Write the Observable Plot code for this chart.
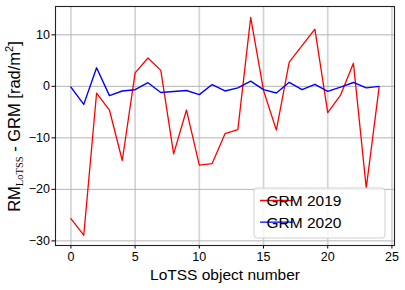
<!DOCTYPE html>
<html><head><meta charset="utf-8">
<script src="https://cdn.jsdelivr.net/npm/d3@7"></script>
<script src="https://cdn.jsdelivr.net/npm/@observablehq/plot@0.6"></script>
<style>
body{margin:0;background:#fff;}
#chart{position:relative;width:405px;height:290px;}
#chart svg{font-family:"Liberation Sans",Arial,sans-serif;}
</style>
</head><body><div id="chart"></div>
<script>
const objectNumbers = [0,1,2,3,4,5,6,7,8,9,10,11,12,13,14,15,16,17,18,19,20,21,22,23,24];
const grm2019 = [-25.7,-28.9,-1.3,-4.6,-14.4,2.6,5.5,3.1,-13.1,-4.6,-15.3,-15.0,-9.2,-8.4,13.4,-0.8,-8.5,4.7,7.9,11.1,-5.1,-1.7,4.5,-19.7,-0.2];
const grm2020 = [-0.15,-3.5,3.6,-1.8,-0.9,-0.65,0.7,-1.2,-1.0,-0.8,-1.6,0.35,-0.9,-0.3,1.0,-0.65,-1.3,0.78,-0.65,0.4,-0.97,-0.15,0.75,-0.3,0.0];
const seriesNames = ["GRM 2019","GRM 2020"];
const seriesColors = ["#ff0000","#0000ff"];
const xTicks = [0,5,10,15,20,25];
const yTicks = [-30,-20,-10,0,10];
const xLabel = "LoTSS object number";

const rows2019 = objectNumbers.map((n,i)=>({n, v:grm2019[i]}));
const rows2020 = objectNumbers.map((n,i)=>({n, v:grm2020[i]}));

const plot = Plot.plot({
  width:405, height:290,
  marginLeft:55, marginRight:11, marginTop:6, marginBottom:45,
  style:{fontFamily:'"Liberation Sans",Arial,sans-serif', background:"#fff", color:"#000"},
  x:{domain:[-1.2,25.2]},
  y:{domain:[-30.9,15.5]},
  marks:[
    Plot.gridX(xTicks,{stroke:"#d4d4d4",strokeWidth:1.7,strokeOpacity:1}),
    Plot.gridY(yTicks,{stroke:"#b4b4b4",strokeWidth:1,strokeOpacity:1}),
    Plot.axisX(xTicks,{tickSize:3.5,tickPadding:3,fontSize:12.5,label:null,stroke:"#000"}),
    Plot.axisY(yTicks,{tickSize:3.5,tickPadding:2,fontSize:12.5,label:null,stroke:"#000"}),
    Plot.line(rows2019,{x:"n",y:"v",stroke:seriesColors[0],strokeWidth:1.3}),
    Plot.line(rows2020,{x:"n",y:"v",stroke:seriesColors[1],strokeWidth:1.4}),
    Plot.frame({stroke:"#222",strokeWidth:1.1}),
    Plot.text([xLabel],{frameAnchor:"bottom",dy:34,fontSize:15.5,fill:"#000"})
  ]
});
document.getElementById("chart").appendChild(plot);

const svg = d3.select(plot);
// y label with subscript / superscript
const yl = svg.append("text")
  .attr("transform","translate(19.5,126.5) rotate(-90)")
  .attr("text-anchor","middle")
  .attr("font-size",16.5)
  .attr("fill","#000");
yl.append("tspan").text("RM");
yl.append("tspan").attr("font-size",10.5).attr("font-family",'"Liberation Serif",serif').attr("dy",3).text("LoTSS");
yl.append("tspan").attr("dy",-3).text(" - GRM [rad/m");
yl.append("tspan").attr("font-size",11).attr("dy",-6.5).text("2");
yl.append("tspan").attr("dy",6.5).text("]");

// legend
const lg = svg.append("g").attr("transform","translate(254,188)");
lg.append("rect").attr("width",131).attr("height",50).attr("rx",3)
  .attr("fill","#fff").attr("fill-opacity",0.8).attr("stroke","#d0d0d0").attr("stroke-width",1);
seriesNames.forEach((name,i)=>{
  const y = 12.5 + i*21.6;
  lg.append("line").attr("x1",6).attr("x2",39).attr("y1",y).attr("y2",y)
    .attr("stroke",seriesColors[i]).attr("stroke-width",1.4);
  lg.append("text").attr("x",50).attr("y",y).attr("dy","0.35em")
    .attr("font-size",15.5).attr("fill","#000").text(name);
});
</script>
</body></html>
